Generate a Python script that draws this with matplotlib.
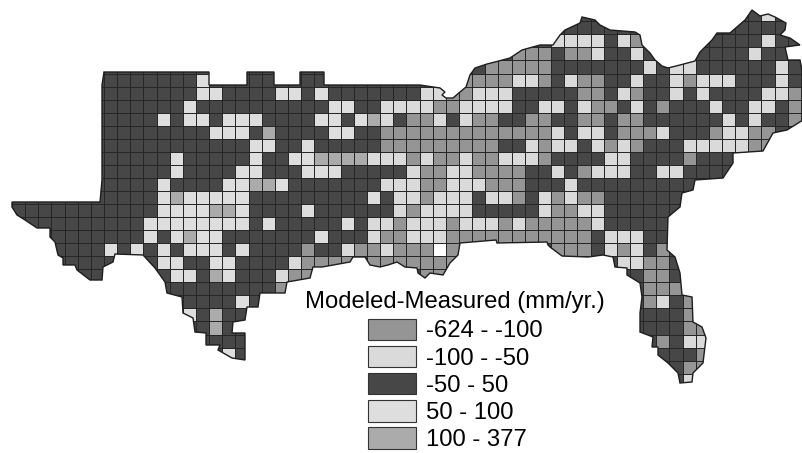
"""
Modeled minus measured map of the south-eastern US on a regular grid.
Cells are read off the scan, row by row, as run-length tokens.
"""
import re

import matplotlib
matplotlib.use("Agg")
import matplotlib.pyplot as plt
import numpy as np
from matplotlib.colors import BoundaryNorm, ListedColormap
from matplotlib.patches import Patch, Polygon

plt.rcParams["font.family"] = ["Liberation Sans", "DejaVu Sans"]

class_labels = ["-624 - -100", "-100 - -50", "-50 - 50", "50 - 100", "100 - 377"]
class_colors = ["#959595", "#dadada", "#474747", "#dedede", "#ababab"]
no_data_color = "#ffffff"
legend_title = "Modeled-Measured (mm/yr.)"

# token letter -> class index, W is the one blank cell inside the map, "." is no cell
class_codes = {"M": 0, "L": 1, "D": 2, "H": 3, "E": 4, "W": 5}

first_row = -5
row_cells = [
    (36, "2D 11. D L"),
    (35, "6D 6. 5D"),
    (34, "4L D L M 5. 4D L D D"),
    (31, "3M D 2M L 2D L D 3. 4D L 2D"),
    (29, "5M 7D L D 2L 6D L D"),
    (0, "7D H 3. 2D 2. 2D 10. 4M 2L M D L 2M 2D L 2D L M 3L 3D L 2D"),
    (0, "7D 2H 4D 2H D H 7D 2L M M 3L 5D 2M D L M 2D L D L 4D 2L M D"),
    (0, "6D H 10D 2H 2D 4L 2M 4L 2D 2L D L 2M D L D M 3D L 2D 2L D M"),
    (0, "4D H D 2H D 3H 4D 2H D H E L D 2M L D L 2M 2D 2M 2D 2M D 2M 6D L D L 2D M"),
    (0, "8D 3H D E 4D 2H 2D 13M L D 2L D 3M L 3D M 2L 2M D"),
    (0, "11D 2H 2D H 5D 9M 2D L M 2L D L M L M 3D 5L 2M"),
    (0, "5D H 5D H 2D 2H 4E 3L M L 2M L 2M 3L M 4D 2L 4D M 4D"),
    (0, "5D H 4D 2H 3D 3H 5D L 2M 2L 4M 2D L D M 3L 2D 2L 4D"),
    (0, "4D H 4D 2H 2E H 7D 3L 2M 3L 3M 3D L 10D"),
    (0, "4D H E 5H 9D H D 2L M 3L D 2L M D L M L 2M 6D"),
    (-7, "11D 4H 2E H 4D H 6D L M 4L 5D L 2M 2L 6D"),
    (-5, "8D 8H D H 5D H D 2L M 3L M 3L M L 5M L 5D"),
    (-4, "7D H D H E 2H 7D H 3D L 2M 3L 11M D 3L 2D"),
    (-3, "3D H D H D H D 3H D H 4D M 2D L 2M L 3M W M 7. 3M D L M L D M"),
    (-3, "5D . D 2H 2D 2H 4D L 4M . 7M 12. 2L 2M D"),
    (-2, "2D 4. D 2H D E H 3D L 2M 8. 2M 14. D 2M D"),
    (4, "9D M 27. 3M"),
    (6, "4D H D 29. M L D M"),
    (6, "H D E 2D 30. 3D M"),
    (7, "D E D 31. 3D 2M"),
    (8, "3D 31. M D 2L"),
    (9, "H D 31. 3D M"),
    (43, "D 2M"),
    (44, "L"),
]

# region boundary, traced in map units
coast_x = [104, 209, 209, 247, 247, 274, 274, 300, 300, 324, 324, 420, 440, 445, 442,
           446, 453, 460, 466, 470, 475, 487, 495, 510, 522, 540, 553, 560, 565, 580,
           582, 595, 600, 610, 635, 640, 642, 650, 655, 662, 668, 680, 695, 700, 712,
           717, 730, 745, 752, 760, 768, 775, 786, 785, 780, 790, 800, 785, 788, 800,
           803, 803, 803, 795, 787, 773, 763, 733, 733, 723, 695, 693, 682, 680, 668,
           667, 675, 680, 682, 692, 693, 702, 706, 703, 693, 692, 680, 678, 668, 658,
           658, 652, 653, 640, 640, 642, 640, 627, 627, 615, 613, 603, 588, 562, 550,
           548, 547, 497, 496, 460, 458, 450, 443, 430, 425, 418, 417, 405, 397, 388,
           380, 370, 365, 353, 350, 322, 313, 310, 287, 285, 260, 258, 247, 245, 233,
           232, 245, 245, 232, 218, 220, 206, 206, 195, 193, 183, 182, 167, 165, 155,
           143, 115, 113, 103, 102, 90, 77, 75, 63, 63, 58, 55, 50, 50, 37, 25, 17, 12,
           12, 100, 102, 102]
coast_y = [72, 72, 85, 85, 72, 72, 85, 85, 72, 72, 85, 85, 88, 92, 95,
           98, 98, 92, 87, 75, 68, 64, 62, 58, 50, 45, 45, 35, 30, 23,
           17, 20, 25, 30, 32, 35, 45, 53, 60, 66, 68, 65, 61, 52, 40,
           33, 33, 20, 10, 16, 14, 17, 23, 30, 35, 38, 45, 47, 60, 60,
           75, 100, 120, 125, 130, 133, 151, 153, 163, 178, 180, 190, 193, 207, 217,
           250, 257, 273, 295, 297, 322, 327, 338, 363, 373, 382, 383, 373, 363, 355,
           347, 347, 337, 332, 313, 297, 283, 275, 268, 267, 257, 255, 257, 256, 247,
           245, 242, 243, 240, 243, 255, 263, 275, 273, 278, 273, 268, 267, 262, 265,
           267, 265, 257, 257, 262, 267, 267, 278, 282, 293, 293, 307, 307, 320, 322,
           333, 333, 360, 358, 350, 345, 345, 333, 332, 318, 313, 297, 293, 282, 268,
           255, 254, 262, 267, 280, 280, 270, 265, 265, 258, 255, 242, 237, 228, 228,
           220, 215, 207, 202, 202, 180, 85]

# grid layout of the scan
col_first, col_last = -7, 53
cell_x0, cell_dx = 104.0, 13.15
cell_y0, cell_dy = 73.5, 13.05


def expand_row(tokens: str) -> list:
    out = []
    for tok in tokens.split():
        m = re.fullmatch(r"(\d*)([A-Z.])", tok)
        n = int(m.group(1) or 1)
        out += [class_codes.get(m.group(2), -1)] * n
    return out


def build_grid() -> np.ndarray:
    grid = np.full((len(row_cells), col_last - col_first + 1), -1)
    for r, (start, tokens) in enumerate(row_cells):
        vals = expand_row(tokens)
        grid[r, start - col_first:start - col_first + len(vals)] = vals
    return np.ma.masked_less(grid, 0)


def main():
    fig = plt.figure(figsize=(8.03, 4.53), dpi=100)
    ax = fig.add_axes([0, 0, 1, 1])
    ax.set_xlim(0, 803)
    ax.set_ylim(453, 0)
    ax.axis("off")

    grid = build_grid()
    x_edges = cell_x0 + cell_dx * np.arange(col_first, col_last + 2)
    y_edges = cell_y0 + cell_dy * np.arange(first_row, first_row + len(row_cells) + 1)

    # slivers of coast that no grid cell reaches stay dark, as in the scan
    coast_xy = np.column_stack([coast_x, coast_y])
    clip_shape = Polygon(coast_xy, closed=True, facecolor=class_colors[2],
                         edgecolor="none", zorder=1)
    ax.add_patch(clip_shape)
    ax.add_patch(Polygon(coast_xy, closed=True, fill=False, edgecolor="#1e1e1e",
                         linewidth=1.0, zorder=3))

    cmap = ListedColormap(class_colors + [no_data_color])
    norm = BoundaryNorm(np.arange(-0.5, 6.5), cmap.N)
    mesh = ax.pcolormesh(x_edges, y_edges, grid, cmap=cmap, norm=norm,
                         edgecolors="#262626", linewidth=0.7, zorder=2)
    mesh.set_clip_path(clip_shape)

    handles = [Patch(facecolor=c, edgecolor="#333333", linewidth=0.8, label=lab)
               for c, lab in zip(class_colors, class_labels)]
    leg = ax.legend(handles=handles, title=legend_title, loc="upper center",
                    bbox_to_anchor=(455, 291), bbox_transform=ax.transData,
                    frameon=False, fontsize=17.2, title_fontsize=17.2, borderpad=0,
                    handlelength=2.0, handleheight=1.0, handletextpad=0.42,
                    labelspacing=0.14, borderaxespad=0)
    leg._legend_box.sep = 4

    fig.savefig("out.png", dpi=100)


if __name__ == "__main__":
    main()
